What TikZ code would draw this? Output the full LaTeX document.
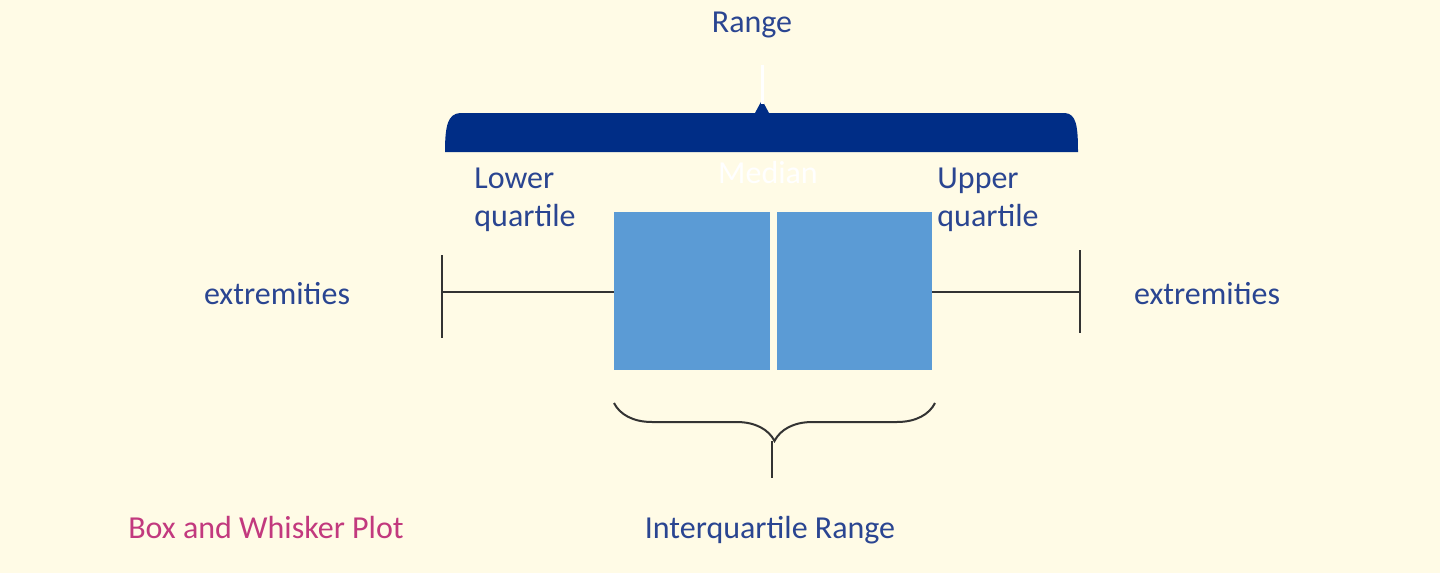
\documentclass[tikz,border=0pt]{standalone}
\usepackage{fontspec}
\setmainfont{Carlito}
\usetikzlibrary{decorations.pathreplacing}
\definecolor{bg}{HTML}{FFFBE6}
\definecolor{txt}{HTML}{2A4591}
\definecolor{navy}{HTML}{002D86}
\definecolor{boxc}{HTML}{5B9BD5}
\definecolor{pink}{HTML}{C2397E}
\begin{document}
\begin{tikzpicture}[x=0.5pt,y=-0.5pt,
  lbl/.style={text=txt,font=\fontsize{16}{19}\selectfont,inner sep=0pt},
  whisk/.style={draw=black!80,line width=1pt}]
\fill[bg] (0,0) rectangle (1440,573);
\useasboundingbox (0,0) rectangle (1440,573);
% top brace
\fill[navy] (445,152) .. controls (445,125) and (448,114) .. (460,113) -- (755,113) -- (762,100) -- (769,113) -- (1065,113) .. controls (1076,114) and (1078,125) .. (1078,152) -- cycle;
\draw[white,line width=1.5pt] (762,65) -- (762,104);
\node[lbl] (range) at (752,25) {Range};
% box
\fill[boxc] (614,212) rectangle (770,370);
\fill[boxc] (777,212) rectangle (932,370);
\coordinate (bl) at (614,292);
\coordinate (br) at (932,292);
\coordinate (wl) at (442,292);
\coordinate (wr) at (1080,292);
\draw[whisk] (wl) -- (bl);
\draw[whisk] (442,255) -- (442,338);
\draw[whisk] (br) -- (wr);
\draw[whisk] (1080,250) -- (1080,333);
\node[text=white,font=\fontsize{16}{19}\selectfont] (med) at (768,173) {Median};
\node[lbl,align=left,anchor=west] (lq) at (474,200) {Lower\\quartile};
\node[lbl,align=left,anchor=west] (uq) at (937,200) {Upper\\quartile};
\node[lbl] (el) at (277,294) {extremities};
\node[lbl] (er) at (1207,294) {extremities};
% bottom brace
\coordinate (b1) at (935,403);
\coordinate (b2) at (614,403);
\draw[black!80,line width=1pt,decorate,decoration={brace,amplitude=19pt}] (b1) -- (b2);
\draw[black!80,line width=1pt] (772,441) -- (772,478);
\node[lbl] (iqr) at (770,530) {Interquartile Range};
\node[text=pink,font=\fontsize{16}{19}\selectfont,inner sep=0pt] (title) at (266,528) {Box and Whisker Plot};
\end{tikzpicture}
\end{document}
